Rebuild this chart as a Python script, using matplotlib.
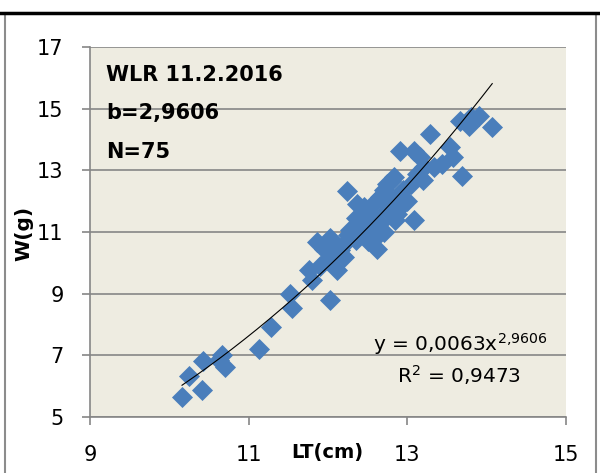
import numpy as np
import matplotlib
matplotlib.use("Agg")
import matplotlib.pyplot as plt
from matplotlib.patches import Rectangle
from matplotlib.lines import Line2D

plt.rcParams['font.family'] = ['DejaVu Sans']
plt.rcParams['mathtext.fontset'] = 'dejavusans'

# length (cm) and weight (g)
lt = [10.16, 10.25, 10.41, 10.42, 10.62, 10.67, 10.70, 11.13, 11.28, 11.55,
      11.52, 12.03, 12.24, 11.86, 11.76, 11.80, 12.03, 11.99, 12.11, 12.15,
      12.28, 12.45, 12.57, 12.62, 12.49, 12.66, 12.75, 12.83, 13.08, 12.95,
      12.87, 13.12, 12.37, 13.67, 13.80, 13.90, 13.78, 14.07, 13.29, 12.91,
      13.08, 13.16, 13.54, 13.58, 13.44, 13.34, 13.21, 13.69, 12.70, 12.95,
      13.00, 12.60, 12.79, 11.90, 12.05, 12.20, 12.25, 12.35, 12.40, 12.50,
      12.55, 12.65, 12.70, 12.75, 12.80, 12.90, 12.20, 12.10, 11.95, 12.45,
      12.60, 13.05, 12.85, 13.20, 12.35]
w = [5.66, 6.33, 5.87, 6.82, 6.84, 7.00, 6.63, 7.22, 7.92, 8.52,
     9.00, 8.79, 12.32, 10.67, 9.76, 9.43, 10.79, 10.08, 9.76, 10.40,
     11.05, 11.80, 11.05, 10.46, 11.38, 12.13, 12.56, 12.78, 11.38, 11.92,
     11.59, 12.88, 11.92, 14.61, 14.72, 14.77, 14.45, 14.39, 14.18, 13.64,
     13.64, 13.42, 13.75, 13.42, 13.21, 13.10, 13.10, 12.83, 12.35, 12.35,
     12.02, 12.02, 12.67, 9.90, 10.30, 10.60, 10.90, 10.75, 11.20, 10.70,
     11.55, 11.30, 11.00, 11.70, 12.00, 12.20, 10.20, 10.55, 10.45, 10.95,
     10.85, 12.55, 11.40, 12.70, 11.45]

a_coef = 0.0063
b_coef = 2.9606
xticks = [9, 11, 13, 15]
yticks = [5, 7, 9, 11, 13, 15, 17]

fig = plt.figure(figsize=(6.0, 4.73), dpi=100)

# chart border
fig.add_artist(Rectangle((5/600, -0.01), 591/600, 1 - 13/473 + 0.01,
                         transform=fig.transFigure, fill=False,
                         edgecolor='#8c8c8c', lw=1.5))
fig.add_artist(Line2D([0, 1], [1 - 13/473, 1 - 13/473], transform=fig.transFigure,
                      color='black', lw=2.5))

ax = fig.add_axes([90/600, 1 - 417/473, 476/600, 370/473])
ax.set_facecolor('#eeece1')

ax.scatter(lt, w, marker='D', s=115, color='#4a7ebb', zorder=3, linewidths=0)

xs = np.linspace(min(lt), max(lt), 200)
ax.plot(xs, a_coef * xs ** b_coef, color='black', lw=0.8, zorder=4)

ax.set_xlim(9, 15)
ax.set_ylim(5, 17)
ax.set_xticks(xticks)
ax.set_yticks(yticks)
ax.grid(axis='y', color='#868686', lw=1.2)
ax.set_axisbelow(True)
for s in ['top', 'right']:
    ax.spines[s].set_visible(False)
for s in ['left', 'bottom']:
    ax.spines[s].set_color('#868686')
    ax.spines[s].set_linewidth(1.2)
ax.tick_params(axis='y', length=6, width=1.2, color='#868686', pad=13, labelsize=15)
ax.tick_params(axis='x', length=6, width=1.2, color='#868686', pad=14, labelsize=15)

ax.text(9.2, 16.1, 'WLR 11.2.2016', fontsize=15, fontweight='bold', va='center')
ax.text(9.2, 14.85, 'b=2,9606', fontsize=15, fontweight='bold', va='center')
ax.text(9.2, 13.6, 'N=75', fontsize=15, fontweight='bold', va='center')

ax.text(14.77, 7.35, r'y = 0,0063x$^{2{,}9606}$', fontsize=14.5, ha='right', va='center')
ax.text(14.43, 6.35, 'R$^2$ = 0,9473', fontsize=14.5, ha='right', va='center')

fig.text(24/600, 1 - 233/473, 'W(g)', rotation=90, fontsize=14.5, fontweight='bold',
         ha='center', va='center')
fig.text(327/600, 1 - 452/473, 'LT(cm)', fontsize=14, fontweight='bold',
         ha='center', va='center')

fig.savefig('out.png', dpi=100)
